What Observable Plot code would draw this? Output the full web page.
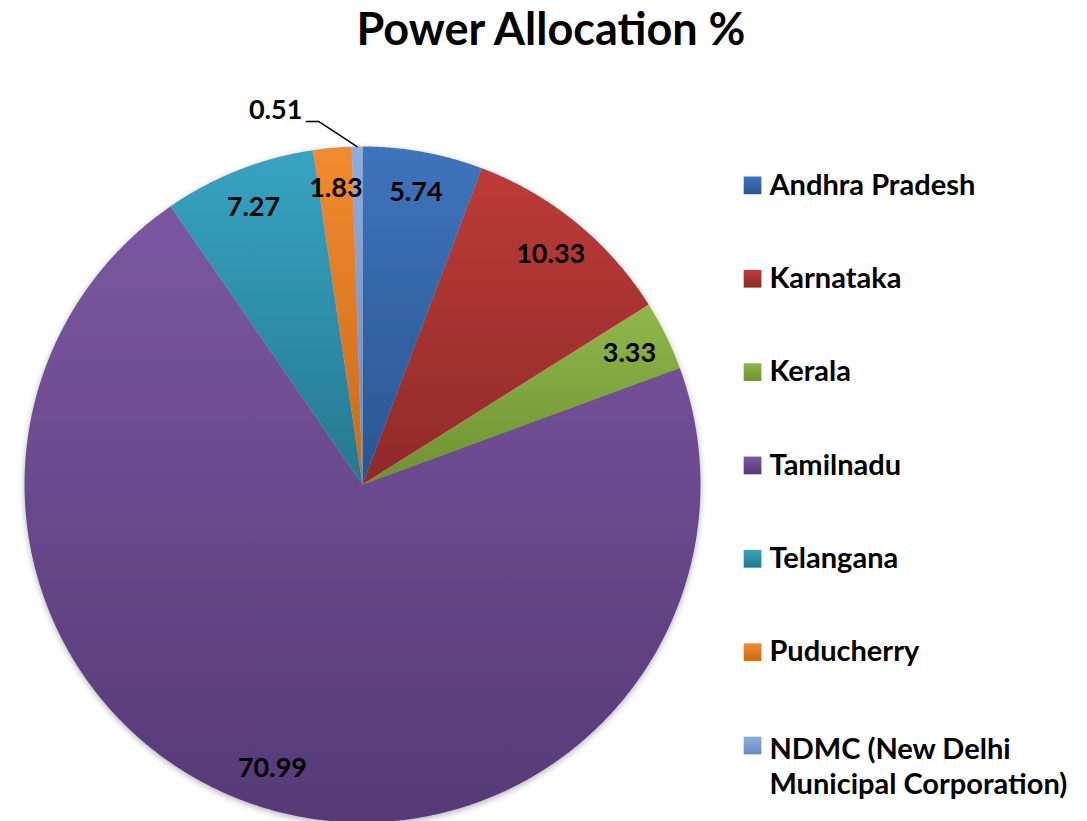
<!DOCTYPE html>
<html>
<head>
<meta charset="utf-8">
<script src="https://cdn.jsdelivr.net/npm/d3@7"></script>
<script src="https://cdn.jsdelivr.net/npm/@observablehq/plot@0.6"></script>
<style>
  html, body { margin: 0; padding: 0; background: #fff; }
  #chart svg { display: block; }
</style>
</head>
<body>
<div id="chart"></div>
<script>
// ---- data ----
const title = "Power Allocation %";
const categories = [
  "Andhra Pradesh",
  "Karnataka",
  "Kerala",
  "Tamilnadu",
  "Telangana",
  "Puducherry",
  "NDMC (New Delhi\nMunicipal Corporation)"
];
const values = [5.74, 10.33, 3.33, 70.99, 7.27, 1.83, 0.51];
const topColors    = ["#3e74bc", "#bd3b38", "#8fb84a", "#7b57a1", "#36a4c2", "#f38b2f", "#8fade0"];
const bottomColors = ["#2a5590", "#8e2a28", "#6e9133", "#553a76", "#267890", "#c86a1a", "#6c8ac2"];
const outsideLabel = [false, false, false, false, false, false, true];

// ---- geometry built from the values ----
const font = "Lato, 'Open Sans', sans-serif";
const arcs = d3.pie().sort(null).value(d => d)(values);
const gradId = i => `url(#grad${i})`;

const slicePts = [];
arcs.forEach((a, i) => {
  slicePts.push({i, x: 0, y: 0});
  const n = Math.max(4, Math.ceil((a.endAngle - a.startAngle) / 0.005));
  for (let k = 0; k <= n; ++k) {
    const t = a.startAngle + (a.endAngle - a.startAngle) * k / n;
    slicePts.push({i, x: Math.sin(t), y: Math.cos(t)});
  }
});

const labelR = 0.88;
const labels = arcs.map((a, i) => {
  const m = (a.startAngle + a.endAngle) / 2;
  return {i, value: values[i], x: labelR * Math.sin(m), y: labelR * Math.cos(m), m};
});
const inside = labels.filter(d => !outsideLabel[d.i]);
const outside = labels.filter(d => outsideLabel[d.i]);

// leader line for the small slice: from slice edge up to an elbow, then left
const leaderPts = [];
outside.forEach(d => {
  leaderPts.push({i: d.i, x: Math.sin(d.m), y: Math.cos(d.m)});
  leaderPts.push({i: d.i, x: -0.13, y: 1.074});
  leaderPts.push({i: d.i, x: -0.166, y: 1.074});
});
const outsideText = outside.map(d => ({...d, x: -0.178, y: 1.107}));

// legend
const legendTop = 0.885, legendStep = 0.2762;
const legend = categories.map((c, i) => ({i, name: c, y: legendTop - i * legendStep, multi: c.includes("\n")}));

const R = 338, cx = 362, cy = 484;
const legendSize = 29;

const plot = Plot.plot({
  width: 1087,
  height: 821,
  margin: 0,
  x: {domain: [-1, 1], range: [cx - R, cx + R], axis: null},
  y: {domain: [-1, 1], range: [cy + R, cy - R], axis: null},
  color: {type: "identity"},
  marks: [
    Plot.line(slicePts, {x: "x", y: "y", z: "i", fill: d => gradId(d.i), stroke: "none", curve: "linear", ariaDescription: "pie"}),
    Plot.text(inside, {x: "x", y: "y", text: d => d.value.toFixed(2), fontSize: 27, fontWeight: "bold", fill: "#000", fontFamily: font}),
    Plot.line(leaderPts, {x: "x", y: "y", z: "i", stroke: "#000", strokeWidth: 1.5}),
    Plot.text(outsideText, {x: "x", y: "y", text: d => d.value.toFixed(2), textAnchor: "end", fontSize: 27, fontWeight: "bold", fill: "#000", fontFamily: font}),
    Plot.dot(legend, {x: 1.154, y: "y", symbol: "square", r: 10, fill: d => gradId(d.i), stroke: "none"}),
    Plot.text(legend.filter(d => !d.multi), {x: 1.204, y: "y", text: "name", textAnchor: "start", fontSize: legendSize, fontWeight: "bold", fill: "#000", fontFamily: font}),
    Plot.text(legend.filter(d => d.multi), {x: 1.204, y: "y", text: "name", textAnchor: "start", lineAnchor: "top", dy: -0.39 * legendSize, lineHeight: 1.2, fontSize: legendSize, fontWeight: "bold", fill: "#000", fontFamily: font}),
    Plot.text([title], {frameAnchor: "top", text: d => d, dx: 7, dy: 13, lineAnchor: "top", fontSize: 45, fontWeight: "bold", fill: "#000", fontFamily: font})
  ]
});

// gradient + shadow definitions
const svg = d3.select(plot);
const defs = svg.insert("defs", ":first-child");
categories.forEach((c, i) => {
  const g = defs.append("linearGradient").attr("id", `grad${i}`).attr("x1", 0).attr("y1", 0).attr("x2", 0).attr("y2", 1);
  g.append("stop").attr("offset", "0%").attr("stop-color", topColors[i]);
  g.append("stop").attr("offset", "100%").attr("stop-color", bottomColors[i]);
});
const f = defs.append("filter").attr("id", "pieShadow").attr("x", "-10%").attr("y", "-10%").attr("width", "120%").attr("height", "120%");
f.append("feDropShadow").attr("dx", 0).attr("dy", 2).attr("stdDeviation", 3).attr("flood-color", "#000").attr("flood-opacity", 0.3);
svg.selectAll("g[aria-description='pie']").attr("filter", "url(#pieShadow)");

document.getElementById("chart").appendChild(plot);
</script>
</body>
</html>
